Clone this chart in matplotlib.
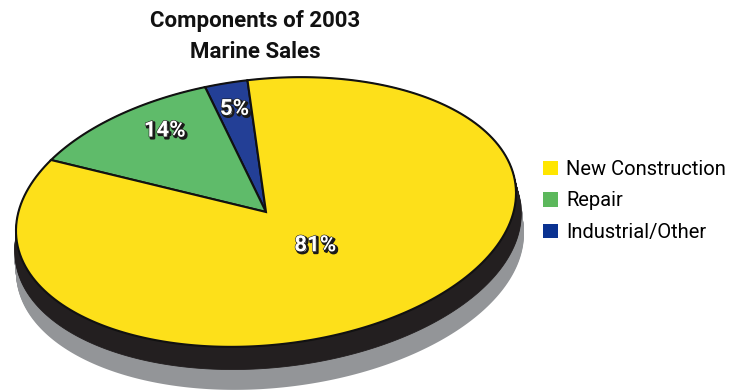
import numpy as np
import matplotlib
matplotlib.use("Agg")
import matplotlib.pyplot as plt
from matplotlib.patches import Polygon, Patch
import matplotlib.patheffects as pe

# data
categories = ["New Construction", "Repair", "Industrial/Other"]
shares = [81, 14, 5]
labels = ["81%", "14%", "5%"]
title_lines = ["Components of 2003", "Marine Sales"]

colors = ["#fde01a", "#5fbb6a", "#233f96"]
legend_colors = ["#ffe600", "#5cb85c", "#0a3291"]

plt.rcParams["font.family"] = ["Roboto", "DejaVu Sans"]

# ellipse geometry (image pixels, y down)
cx, cy = 266, 212
a, b = 251, 133
tilt = np.radians(6)
start = 98  # degrees, counterclockwise start of the smallest slice


def ell_pts(ox, oy, aa, bb, n=400):
    t = np.linspace(0, 2 * np.pi, n)
    u = aa * np.cos(t)
    v = bb * np.sin(t)
    x = u * np.cos(tilt) - v * np.sin(tilt)
    y = u * np.sin(tilt) + v * np.cos(tilt)
    return np.column_stack([ox + x, oy - y])


def rim(psi):
    d = psi - tilt
    return 1 / np.sqrt((np.cos(d) / a) ** 2 + (np.sin(d) / b) ** 2)


fig = plt.figure(figsize=(7.4, 3.9), dpi=100)
ax = fig.add_axes([0, 0, 1, 1])
ax.set_xlim(0, 740)
ax.set_ylim(390, 0)
ax.axis("off")

# gray shadow, swept downward
for k in np.linspace(21, 41, 21):
    ax.add_patch(Polygon(ell_pts(cx + 2 + 0.1 * (k - 21), cy + k, a + 4, b + 2),
                         closed=True, fc="#939598", ec="none", zorder=1))
# black thickness
for k in np.linspace(0, 21, 22):
    ax.add_patch(Polygon(ell_pts(cx + 0.1 * k, cy + k, a + 0.15 * k, b + 0.08 * k),
                         closed=True, fc="#231f20", ec="#231f20", lw=0.6, zorder=2))

# top face slices: smallest first, counterclockwise
order = [2, 1, 0]
vals = np.array([shares[i] for i in order], dtype=float)
edges = start + np.concatenate([[0], np.cumsum(vals)]) / vals.sum() * 360
label_frac = {2: 0.8, 1: 0.78, 0: 0.34}
for j, i in enumerate(order):
    psi = np.radians(np.linspace(edges[j], edges[j + 1], 300))
    r = rim(psi)
    pts = np.column_stack([cx + r * np.cos(psi), cy - r * np.sin(psi)])
    pts = np.vstack([[cx, cy], pts])
    ax.add_patch(Polygon(pts, closed=True, fc=colors[i], ec="#111111",
                         lw=1.5, joinstyle="miter", zorder=3))
    mid = np.radians((edges[j] + edges[j + 1]) / 2)
    if i == 0:
        mid = np.radians(-34)
    rr = rim(mid) * label_frac[i]
    ax.text(cx + rr * np.cos(mid), cy - rr * np.sin(mid), labels[i],
            color="white", fontsize=16, fontweight="bold", ha="center",
            va="center", zorder=4,
            path_effects=[pe.Stroke(linewidth=1.8, foreground="#1a1a1a", offset=(1.2, -1.2)),
                          pe.Stroke(linewidth=0.8, foreground="#1a1a1a"),
                          pe.Normal()])

# title
for n, line in enumerate(title_lines):
    ax.text(255, 21 + 31 * n, line, fontsize=16, fontweight="bold",
            ha="center", va="center", color="#111111")

handles = [Patch(fc=c, ec="none") for c in legend_colors]
ax.legend(handles, categories, loc="upper left", bbox_to_anchor=(543, 160),
          bbox_transform=ax.transData, frameon=False, fontsize=14.5,
          handlelength=0.75, handleheight=0.75, handletextpad=0.4,
          labelspacing=0.62, borderpad=0, borderaxespad=0)

fig.savefig("out.png", dpi=100)
